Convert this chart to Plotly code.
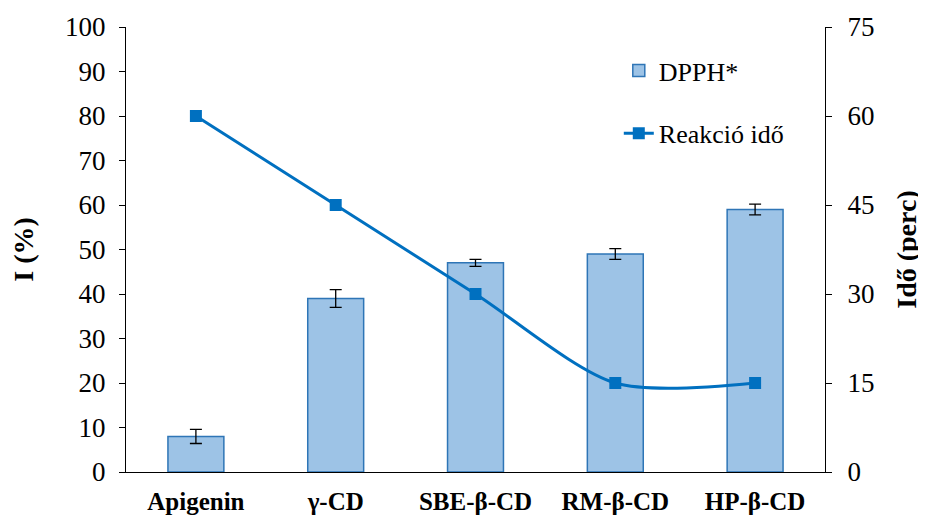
import plotly.graph_objects as go

categories = ["Apigenin", "γ-CD", "SBE-β-CD", "RM-β-CD", "HP-β-CD"]
dpph = [8, 39, 47, 49, 59]
dpph_err = [1.6, 2.0, 0.8, 1.2, 1.2]
reaction_time = [60, 45, 30, 15, 15]

font = "Liberation Serif"

fig = go.Figure()
fig.add_trace(go.Bar(
    x=categories, y=dpph, name="DPPH*", legendgroup="a",
    marker=dict(color="#9DC3E6", line=dict(color="#2E75B6", width=1.5)),
    error_y=dict(type="data", array=dpph_err, color="black", thickness=1.3, width=6),
))
fig.add_trace(go.Scatter(
    x=categories, y=reaction_time, name="Reakció idő", yaxis="y2", legendgroup="b",
    mode="lines+markers",
    line=dict(color="#0070C0", width=3, shape="spline", smoothing=0.8),
    marker=dict(symbol="square", size=12, color="#0070C0"),
))

fig.update_layout(
    width=926, height=520,
    margin=dict(l=118, r=109, t=19, b=56, autoexpand=False),
    paper_bgcolor="white", plot_bgcolor="white",
    font=dict(family=font, size=27, color="black"),
    bargap=0.6,
    showlegend=True,
    legend=dict(x=0.705, y=0.955, xanchor="left", yanchor="top",
                bgcolor="rgba(0,0,0,0)", font=dict(size=26, family=font),
                traceorder="grouped", tracegroupgap=26),
    xaxis=dict(
        automargin=False,
        showline=True, linecolor="black", linewidth=1.2,
        ticks="", tickfont=dict(size=25, family=font),
        tickprefix="<b>", ticksuffix="</b>", ticklabelstandoff=7,
    ),
    yaxis=dict(
        automargin=False,
        range=[0, 100], dtick=10, showgrid=False,
        showline=True, linecolor="black", linewidth=1.2,
        ticks="outside", ticklen=6, tickcolor="black", ticklabelstandoff=8,
        title=dict(text="<b>I (%)</b>", font=dict(size=28, family=font), standoff=24),
    ),
    yaxis2=dict(
        automargin=False,
        range=[0, 75], dtick=15, overlaying="y", side="right", showgrid=False,
        showline=True, linecolor="black", linewidth=1.2,
        ticks="outside", ticklen=6, tickcolor="black", ticklabelstandoff=10,
        title=dict(text="<b>Idő (perc)</b>", font=dict(size=28, family=font), standoff=22),
    ),
)

fig.write_html("out.html")
